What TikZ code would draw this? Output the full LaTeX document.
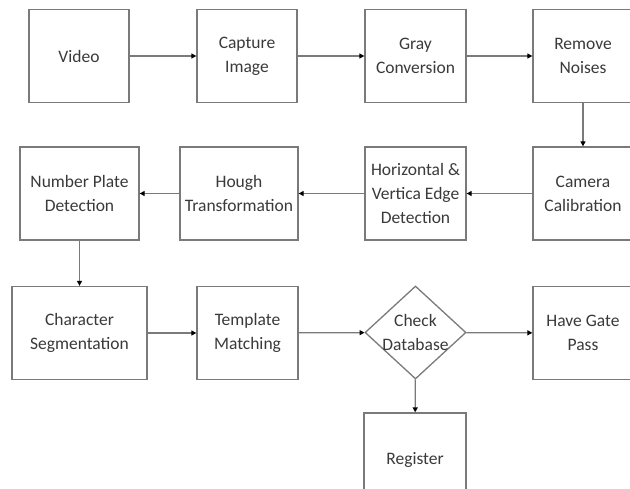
\documentclass[tikz,border=0pt]{standalone}
\usepackage{fontspec}
\setmainfont{Carlito}
\usetikzlibrary{shapes.geometric,arrows.meta}
\definecolor{linegray}{HTML}{7A7A7A}
\definecolor{txtgray}{HTML}{3A3A3A}
\begin{document}
\begin{tikzpicture}[x=1pt,y=-1pt,
  box/.style={draw=linegray,line width=1.3pt,fill=white,minimum height=93pt,inner sep=0pt,align=center,text=txtgray,font=\fontsize{17.5}{24}\selectfont},
  conn/.style={draw=linegray,line width=1.2pt,-{Triangle[length=5pt,width=5pt,fill=black,color=black]}}]
\useasboundingbox (0,0) rectangle (630,489);
\clip (0,0) rectangle (630,489);
% row 1
\node[box,minimum width=100pt] (video) at (79,56) {Video};
\node[box,minimum width=100pt] (capture) at (247,56) {Capture\\Image};
\node[box,minimum width=101pt] (gray) at (415.5,56) {Gray\\Conversion};
\node[box,minimum width=100pt] (noise) at (583,56) {Remove\\Noises};
% row 2
\node[box,minimum width=100pt] (camera) at (583,193.5) {Camera\\Calibration};
\node[box,minimum width=101pt] (edge) at (415.5,193.5) {Horizontal \&\\Vertica Edge\\Detection};
\node[box,minimum width=118pt] (hough) at (239,193.5) {Hough\\Transformation};
\node[box,minimum width=119pt] (plate) at (79.5,193.5) {Number Plate\\Detection};
% row 3
\node[box,minimum width=135pt] (segm) at (79.5,333) {Character\\Segmentation};
\node[box,minimum width=101pt] (templ) at (247.5,333) {Template\\Matching};
\node[draw=linegray,line width=1.3pt,diamond,minimum width=101pt,minimum height=93pt,inner sep=0pt] (db) at (415.5,332.5) {};
\node[align=center,text=txtgray,font=\fontsize{17.5}{24}\selectfont,inner sep=0pt] (dbtext) at (db.center) {Check\\Database};
\node[box,minimum width=100pt] (gate) at (583,333) {Have Gate\\Pass};
\node[box,minimum width=102pt] (register) at (415,459.5) {Register};
% connectors
\draw[conn] (video) -- (capture);
\draw[conn] (capture) -- (gray);
\draw[conn] (gray) -- (noise);
\draw[conn] (noise) -- (camera);
\draw[conn] (camera) -- (edge);
\draw[conn] (edge) -- (hough);
\draw[conn] (hough) -- (plate);
\draw[conn] (plate) -- (segm);
\draw[conn] (segm) -- (templ);
\draw[conn] (templ) -- (db);
\draw[conn] (db) -- (gate);
\draw[conn] (db) -- (register);
\end{tikzpicture}
\end{document}
